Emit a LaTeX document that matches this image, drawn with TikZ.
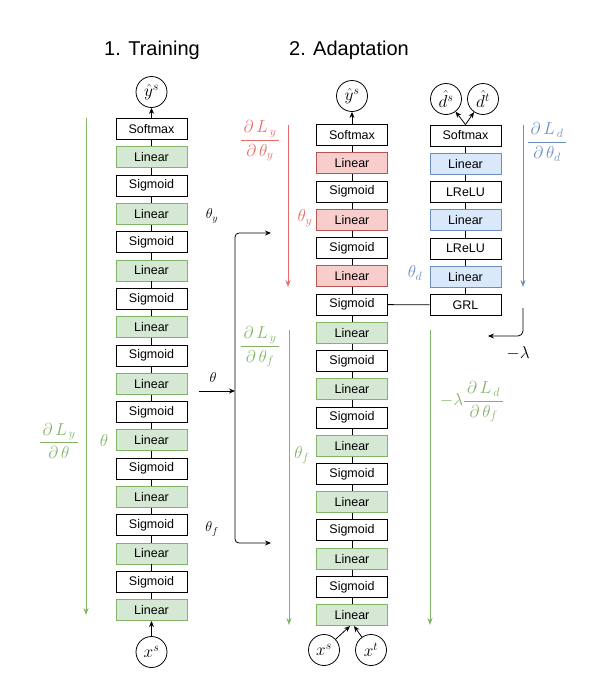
\documentclass[tikz,border=0pt]{standalone}
\usepackage{amsmath}
\usepackage{fontspec}
\setmainfont{Liberation Sans}
\usetikzlibrary{arrows.meta}
\definecolor{gfill}{HTML}{D5E8D4}
\definecolor{gline}{HTML}{82B366}
\definecolor{rfill}{HTML}{F8CECC}
\definecolor{rline}{HTML}{B85450}
\definecolor{rarrow}{HTML}{EA6B66}
\definecolor{bfill}{HTML}{DAE8FC}
\definecolor{bline}{HTML}{6C8EBF}
\tikzset{
  bx/.style={draw=black, fill=white, minimum width=71pt, minimum height=21pt, inner sep=0pt, line width=0.8pt, font=\fontsize{12.5}{14}\selectfont},
  gbx/.style={bx, fill=gfill, draw=gline},
  rbx/.style={bx, fill=rfill, draw=rline},
  bbx/.style={bx, fill=bfill, draw=bline},
  circ/.style={circle, draw, line width=0.8pt, minimum size=31pt, inner sep=0pt, font=\fontsize{17.28}{20}\selectfont},
  arr/.style={line width=0.8pt, -{Stealth[length=6pt,width=5pt]}},
  conn/.style={line width=0.8pt},
  grad/.style={line width=0.9pt, -{Stealth[length=7pt,width=5pt]}},
  mlab/.style={font=\fontsize{17.28}{20}\selectfont, inner sep=1pt},
  slab/.style={font=\fontsize{14.4}{17}\selectfont, inner sep=1pt},
  title/.style={font=\fontsize{20}{24}\selectfont}
}
\begin{document}
\begin{tikzpicture}[x=1pt,y=-1pt]
\useasboundingbox (0,0) rectangle (598,675);
% titles
\node[title] (t1) at (152,50) {1. Training};
\node[title] (t2) at (349,50) {2. Adaptation};
% left column
\foreach \t/\s [count=\i] in {Softmax/bx,Linear/gbx,Sigmoid/bx,Linear/gbx,Sigmoid/bx,Linear/gbx,Sigmoid/bx,Linear/gbx,Sigmoid/bx,Linear/gbx,Sigmoid/bx,Linear/gbx,Sigmoid/bx,Linear/gbx,Sigmoid/bx,Linear/gbx,Sigmoid/bx,Linear/gbx}
  \node[\s] (l\i) at (151.5,{129+(\i-1)*28.3}) {\t};
\foreach \i in {1,...,17}{
  \pgfmathtruncatemacro{\j}{\i+1}
  \draw[conn] (l\i) -- (l\j);
}
\node[circ] (lys) at (151.5,92) {$\hat{y}^s$};
\node[circ] (lxs) at (151.5,652) {$x^s$};
\draw[arr] (l1) -- (lys);
\draw[arr] (lxs) -- (l18);
% middle column
\foreach \t/\s [count=\i] in {Softmax/bx,Linear/rbx,Sigmoid/bx,Linear/rbx,Sigmoid/bx,Linear/rbx,Sigmoid/bx,Linear/gbx,Sigmoid/bx,Linear/gbx,Sigmoid/bx,Linear/gbx,Sigmoid/bx,Linear/gbx,Sigmoid/bx,Linear/gbx,Sigmoid/bx,Linear/gbx}
  \node[\s] (m\i) at (352,{135+(\i-1)*28.24}) {\t};
\foreach \i in {1,...,17}{
  \pgfmathtruncatemacro{\j}{\i+1}
  \draw[conn] (m\i) -- (m\j);
}
\node[circ] (mys) at (352,96) {$\hat{y}^s$};
\node[circ] (mxs) at (324,650) {$x^s$};
\node[circ] (mxt) at (371,650) {$x^t$};
\draw[arr] (m1) -- (mys);
\coordinate (mbl) at ([xshift=-2pt]m18.south);
\coordinate (mbr) at ([xshift=2pt]m18.south);
\draw[arr] (mxs) -- (mbl);
\draw[arr] (mxt) -- (mbr);
% right column
\foreach \t/\s [count=\i] in {Softmax/bx,Linear/bbx,LReLU/bx,Linear/bbx,LReLU/bx,Linear/bbx,GRL/bx}
  \node[\s] (r\i) at (465.5,{135.5+(\i-1)*28.25}) {\t};
\foreach \i in {1,...,6}{
  \pgfmathtruncatemacro{\j}{\i+1}
  \draw[conn] (r\i) -- (r\j);
}
\node[circ] (rds) at (446,99) {$\hat{d}^s$};
\node[circ] (rdt) at (483,99) {$\hat{d}^t$};
\draw[arr] (r1.north) -- (rds);
\draw[arr] (r1.north) -- (rdt);
\draw[conn] (m7) -- (r7);
% theta splitter
\coordinate (ths) at (199,391);
\coordinate (thj) at (235,391);
\coordinate (thy) at (271,233);
\coordinate (thf) at (271,543);
\draw[arr] (ths) -- (thj);
\draw[arr, rounded corners=4pt] (thj) |- (thy);
\draw[arr, rounded corners=4pt] (thj) |- (thf);
\node[slab] (lth) at (213,377) {$\theta$};
\node[slab] (lthy) at (212,216) {$\theta_y$};
\node[slab] (lthf) at (212,529) {$\theta_f$};
% left gradient
\coordinate (lg1) at (86,118);
\coordinate (lg2) at (86,615);
\draw[grad, gline] (lg1) -- (lg2);
\node[mlab, text=gline] (lgf) at (59,441) {$\dfrac{\,\partial\, L_{\,y}\,}{\partial\,\theta}$};
\node[mlab, text=gline] (lgt) at (104,440) {$\theta$};
% red gradient
\coordinate (rg1) at (288,125);
\coordinate (rg2) at (288,287);
\draw[grad, rarrow] (rg1) -- (rg2);
\node[mlab, text=rarrow] (rgf) at (260,141) {$\dfrac{\,\partial\, L_{\,y}\,}{\partial\,\theta_y}$};
\node[mlab, text=rarrow] (rgt) at (305,218) {$\theta_y$};
% middle green gradient
\coordinate (mg1) at (289,330);
\coordinate (mg2) at (289,625);
\draw[grad, gline] (mg1) -- (mg2);
\node[mlab, text=gline] (mgf) at (260,347) {$\dfrac{\,\partial\, L_{\,y}\,}{\partial\,\theta_f}$};
\node[mlab, text=gline] (mgt) at (302,455) {$\theta_f$};
% blue gradient
\coordinate (bg1) at (523,125);
\coordinate (bg2) at (523,287);
\draw[grad, bline] (bg1) -- (bg2);
\node[mlab, text=bline] (bgf) at (547,142) {$\dfrac{\,\partial\, L_{\,d}\,}{\partial\,\theta_d}$};
\node[mlab, text=bline] (bgt) at (415,273) {$\theta_d$};
% GRL reversal
\coordinate (gr1) at (523,308);
\coordinate (gr2) at (488,336);
\draw[arr, rounded corners=5pt] (gr1) |- (gr2);
\node[mlab] (lam) at (518,353) {$-\lambda$};
% right green gradient
\coordinate (gg1) at (430,330);
\coordinate (gg2) at (430,625);
\draw[grad, gline] (gg1) -- (gg2);
\node[mlab, text=gline] (ggf) at (472,402) {$-\lambda\dfrac{\,\partial\, L_{\,d}\,}{\partial\,\theta_f}$};
\end{tikzpicture}
\end{document}
